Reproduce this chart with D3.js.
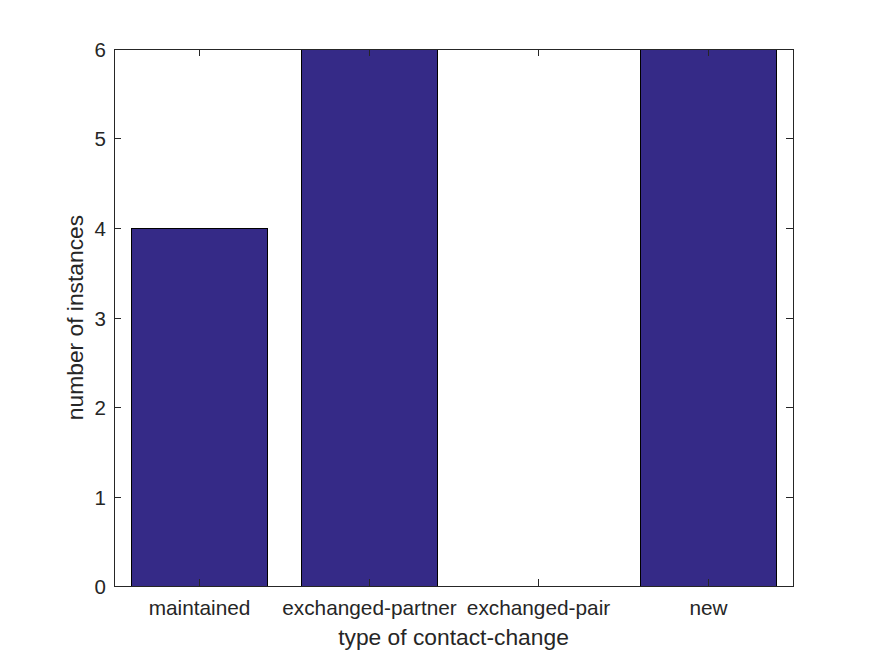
<!DOCTYPE html>
<html>
<head>
<meta charset="utf-8">
<script src="https://cdn.jsdelivr.net/npm/d3@7"></script>
<style>
  html, body { margin: 0; padding: 0; background: #fff; }
  text { font-family: "Liberation Sans", Arial, Helvetica, sans-serif; fill: #262626; }
</style>
</head>
<body>
<svg id="chart" width="875" height="656"></svg>
<script>
const categories = ["maintained", "exchanged-partner", "exchanged-pair", "new"];
const counts = [4, 6, 0, 6];
const yTicks = [0, 1, 2, 3, 4, 5, 6];

const W = 875, H = 656;
const m = { left: 114, right: 875 - 793, top: 49, bottom: 656 - 586 };
const iw = W - m.left - m.right, ih = H - m.top - m.bottom;
const svg = d3.select("#chart");
const g = svg.append("g").attr("transform", `translate(${m.left},${m.top})`);

const x = d3.scaleLinear().domain([0.5, categories.length + 0.5]).range([0, iw]);
const y = d3.scaleLinear().domain([0, 6]).range([ih, 0]);
const bw = (x(1) - x(0)) * 0.8;

g.selectAll("rect.bar").data(counts).join("rect")
  .attr("class", "bar")
  .attr("x", (d, i) => Math.round(x(i + 1) - bw / 2) + 0.5)
  .attr("y", d => Math.round(y(d)) + 0.5)
  .attr("width", Math.round(bw))
  .attr("height", d => Math.round(y(0)) - Math.round(y(d)))
  .attr("fill", "#352a87")
  .attr("stroke", "#000")
  .attr("stroke-width", 1)
  .style("display", d => d > 0 ? null : "none");

const tl = 7;
const axisColor = "#262626";
g.append("rect").attr("x", 0.5).attr("y", 0.5).attr("width", iw).attr("height", ih)
  .attr("fill", "none").attr("stroke", axisColor).attr("stroke-width", 1);

yTicks.forEach(t => {
  const yy = Math.round(y(t)) + 0.5;
  g.append("line").attr("x1", 0).attr("x2", tl).attr("y1", yy).attr("y2", yy).attr("stroke", axisColor);
  g.append("line").attr("x1", iw).attr("x2", iw - tl).attr("y1", yy).attr("y2", yy).attr("stroke", axisColor);
  g.append("text").attr("x", -8).attr("y", yy).attr("dy", "0.35em")
    .attr("text-anchor", "end").style("font-size", "20.5px").text(t);
});
categories.forEach((c, i) => {
  const xx = Math.round(x(i + 1)) + 0.5;
  g.append("line").attr("x1", xx).attr("x2", xx).attr("y1", ih).attr("y2", ih - tl).attr("stroke", axisColor);
  g.append("line").attr("x1", xx).attr("x2", xx).attr("y1", 0).attr("y2", tl).attr("stroke", axisColor);
  g.append("text").attr("x", xx).attr("y", ih + 29)
    .attr("text-anchor", "middle").style("font-size", "20.8px").text(c);
});

svg.append("text").attr("x", m.left + iw / 2).attr("y", 645)
  .attr("text-anchor", "middle").style("font-size", "22.8px").text("type of contact-change");
svg.append("text").attr("transform", `translate(83,${m.top + ih / 2}) rotate(-90)`)
  .attr("text-anchor", "middle").style("font-size", "22.8px").text("number of instances");
</script>
</body>
</html>
